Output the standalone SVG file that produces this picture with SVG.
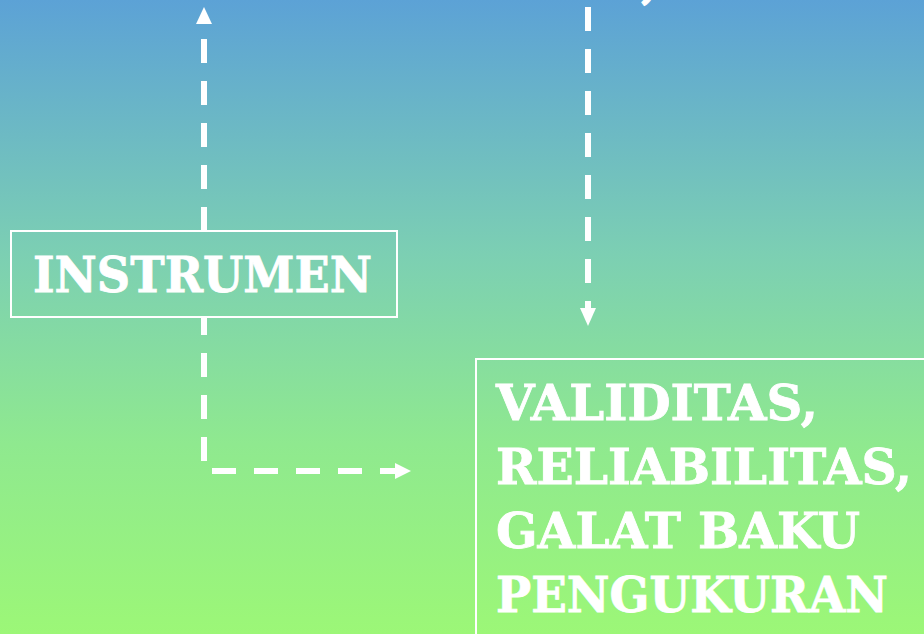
<svg xmlns="http://www.w3.org/2000/svg" width="924" height="634" viewBox="0 0 924 634">
<defs>
<linearGradient id="bg" x1="0" y1="0" x2="0" y2="634" gradientUnits="userSpaceOnUse">
<stop offset="0" stop-color="#5ca2d6"/>
<stop offset="0.4" stop-color="#7ccfb3"/>
<stop offset="0.7" stop-color="#8fe98f"/>
<stop offset="1" stop-color="#9cf777"/>
</linearGradient>
</defs>
<style>
.dash{fill:none;stroke:#fff;stroke-width:6;stroke-dasharray:24 18}
.head{fill:#fff}
.box{fill:url(#bg);stroke:#fff;stroke-width:2}
.t{font-family:"DejaVu Serif","Liberation Serif",serif;font-weight:bold;font-size:48px;fill:#fff;stroke:#fff;stroke-width:0.8}
</style>
<rect x="0" y="0" width="924" height="634" fill="url(#bg)"/>
<text class="t" x="641" y="-2">,</text>
<g id="connectors">
<path class="dash" d="M204,39 L204,232"/>
<path class="dash" d="M204,311 L204,461"/>
<path class="head" d="M196,24 L212,24 L204,7 Z"/>
<path class="dash" d="M212,471 L395,471"/>
<path class="head" d="M395,463 L411,471 L395,479 Z"/>
<path class="dash" d="M588,7 L588,308"/>
<path class="head" d="M580,308 L596,308 L588,326 Z"/>
</g>
<g id="instrumen">
<rect class="box" x="11" y="231" width="386" height="86"/>
<text class="t" x="33" y="292" textLength="339" lengthAdjust="spacingAndGlyphs">INSTRUMEN</text>
</g>
<g id="validitas">
<rect class="box" x="476" y="359" width="460" height="290"/>
<text class="t" x="496" y="420" textLength="322" lengthAdjust="spacingAndGlyphs">VALIDITAS,</text>
<text class="t" x="496" y="484" textLength="416" lengthAdjust="spacingAndGlyphs">RELIABILITAS,</text>
<text class="t" x="496" y="548" textLength="364" lengthAdjust="spacingAndGlyphs">GALAT BAKU</text>
<text class="t" x="496" y="612" textLength="392" lengthAdjust="spacingAndGlyphs">PENGUKURAN</text>
</g>
</svg>
